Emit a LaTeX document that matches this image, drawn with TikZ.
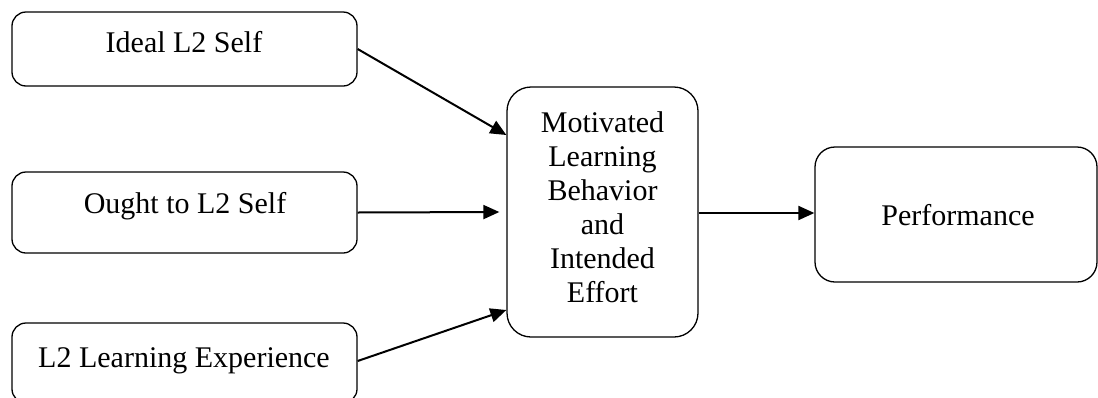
\documentclass[tikz,border=0pt]{standalone}
\usepackage{fontspec}
\setmainfont{Liberation Serif}
\usetikzlibrary{arrows.meta}
\begin{document}
\begin{tikzpicture}[x=1pt,y=-1pt,
  box/.style={draw, line width=1.3pt, inner sep=0pt},
  lbl/.style={font=\fontsize{30}{34}\selectfont, inner sep=0pt},
  arr/.style={line width=2pt, -{Triangle[length=16pt,width=14pt]}}]
\useasboundingbox (0,0) rectangle (1098,397);

% source boxes on the left
\node[box, rounded corners=14pt, minimum width=345pt, minimum height=74pt] (b1) at (184.5,49) {};
\node[lbl, anchor=base] (t1) at (184,52) {Ideal L2 Self};

\node[box, rounded corners=14pt, minimum width=345pt, minimum height=81pt] (b2) at (184.5,212.5) {};
\node[lbl, anchor=base] (t2) at (185,213) {Ought to L2 Self};

\node[box, rounded corners=14pt, minimum width=345pt, minimum height=80pt] (b3) at (184.5,363) {};
\node[lbl, anchor=base] (t3) at (184,367) {L2 Learning Experience};

% mediating box
\node[box, rounded corners=24pt, minimum width=191pt, minimum height=250pt] (m) at (602.5,212) {};
\node[lbl, align=center, anchor=north] (tm) at (602.5,111)
  {Motivated\\Learning\\Behavior\\and\\Intended\\Effort};

% outcome box
\node[box, rounded corners=20pt, minimum width=282pt, minimum height=135pt] (p) at (956,214.5) {};
\node[lbl, anchor=base] (tp) at (958,225) {Performance};

% paths
\draw[arr] (b1.east) -- ([yshift=77pt]m.west);
\draw[arr] (b2.east) -- ([xshift=-7pt]m.west);
\draw[arr] ([yshift=2pt]b3.east) -- ([yshift=-98pt]m.west);
\draw[arr] ([yshift=-1pt]m.east) -- ([yshift=-1pt]m.east -| p.west);
\end{tikzpicture}
\end{document}
